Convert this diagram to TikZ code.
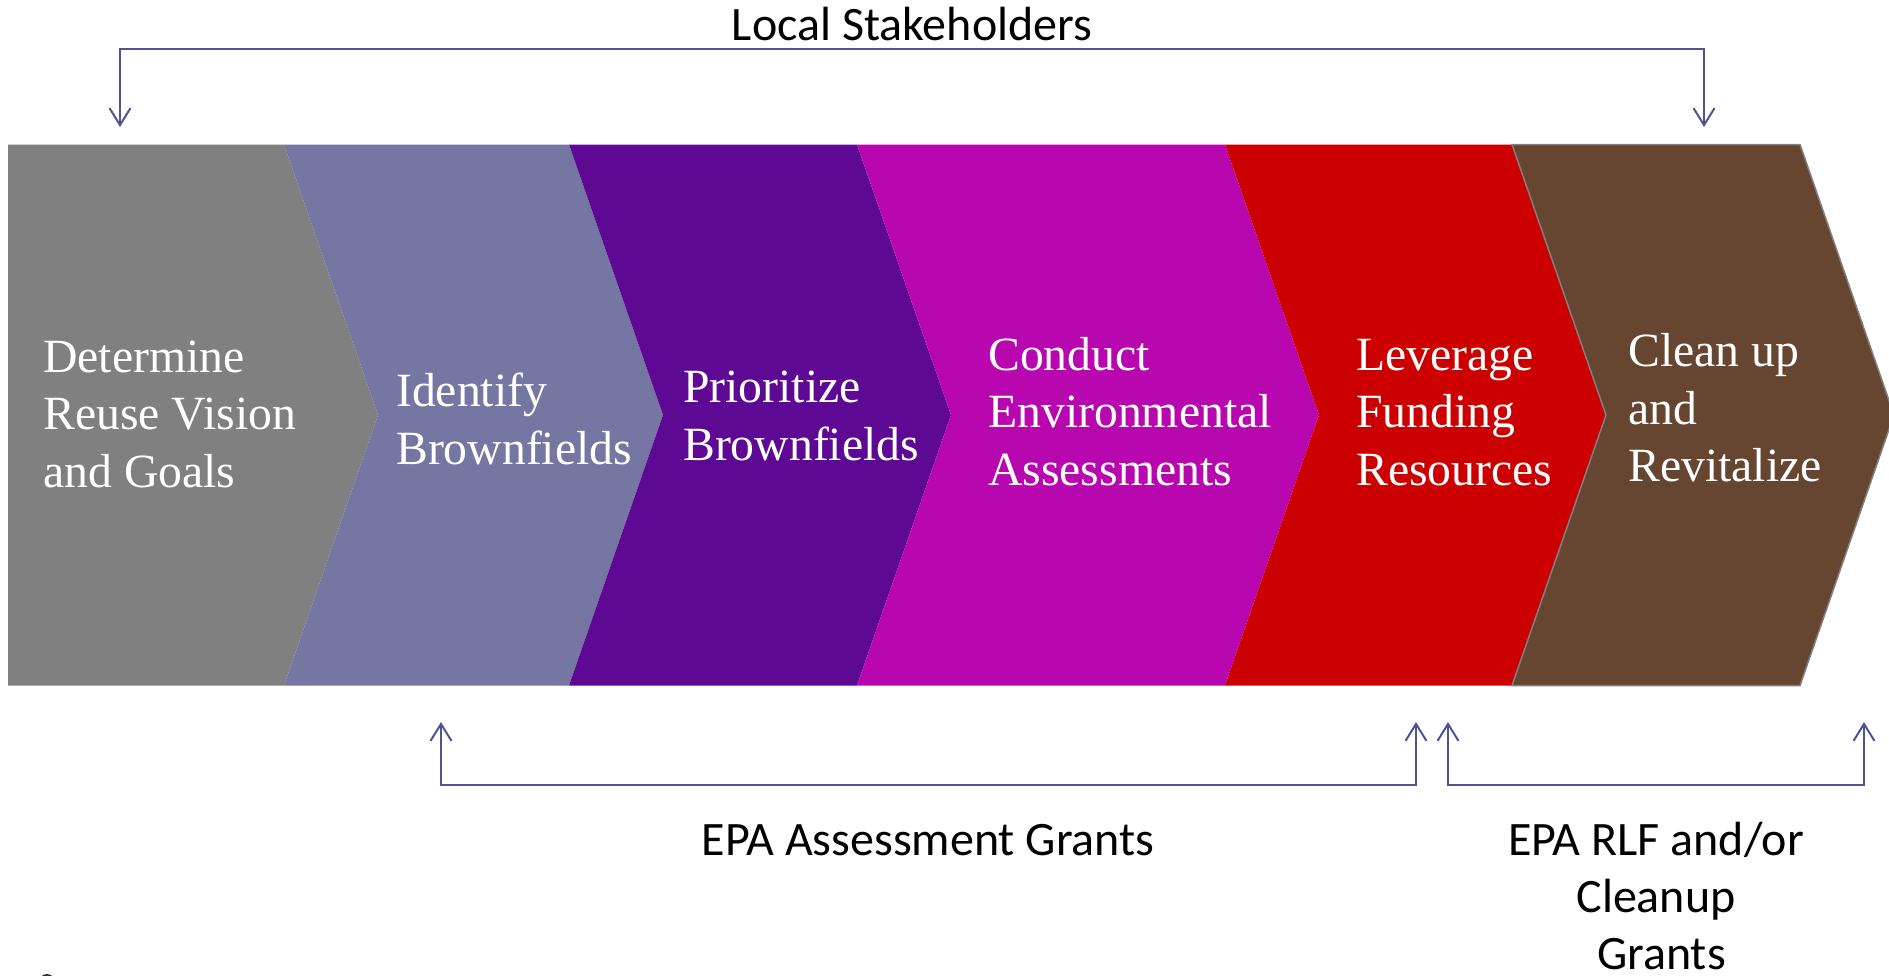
\documentclass[tikz,border=0pt]{standalone}
\usepackage{fontspec}
\setmainfont{Liberation Serif}
\newfontfamily\calib{Carlito}
\usetikzlibrary{arrows.meta}
\definecolor{cgray}{HTML}{808080}
\definecolor{cslate}{HTML}{7676A2}
\definecolor{cpurple}{HTML}{5E0993}
\definecolor{cmagenta}{HTML}{B807AE}
\definecolor{cred}{HTML}{CC0000}
\definecolor{cbrown}{HTML}{664630}
\definecolor{carrow}{HTML}{4F5390}
\newcommand\leftlines[1]{\vtop{\halign{##\hfil\cr#1\crcr}}}
\newcommand\centerlines[1]{\vtop{\halign{\hfil##\hfil\cr#1\crcr}}}
\tikzset{
  steptext/.style={anchor=base west, inner sep=0pt, text=white,
    font=\fontsize{47.7}{57.5}\selectfont},
  sidetext/.style={anchor=base, inner sep=0pt, text=black,
    font=\calib\fontsize{48}{57}\selectfont},
  bracket/.style={draw=carrow, line width=2pt,
    {Straight Barb[length=17pt,width=21pt]}-{Straight Barb[length=17pt,width=21pt]}},
}
\begin{document}
\begin{tikzpicture}[x=1pt,y=-1pt]
\useasboundingbox (0,0) rectangle (1889,975);
% chevrons
\def\ct{144.5}\def\cb{685.5}\def\cm{415}\def\dd{94}
\fill[cgray] (8,\ct) -- (284,\ct) -- (284+\dd,\cm) -- (284,\cb) -- (8,\cb) -- cycle;
\fill[cslate] (284,\ct) -- (569,\ct) -- (569+\dd,\cm) -- (569,\cb) -- (284,\cb) -- (284+\dd,\cm) -- cycle;
\fill[cpurple] (569,\ct) -- (857,\ct) -- (857+\dd,\cm) -- (857,\cb) -- (569,\cb) -- (569+\dd,\cm) -- cycle;
\fill[cmagenta] (857,\ct) -- (1225,\ct) -- (1225+\dd,\cm) -- (1225,\cb) -- (857,\cb) -- (857+\dd,\cm) -- cycle;
\fill[cred] (1225,\ct) -- (1512,\ct) -- (1512+\dd,\cm) -- (1512,\cb) -- (1225,\cb) -- (1225+\dd,\cm) -- cycle;
\filldraw[fill=cbrown, draw=cgray, line width=1.5pt] (1512,\ct) -- (1800,\ct) -- (1800+\dd,\cm) -- (1800,\cb) -- (1512,\cb) -- (1512+\dd,\cm) -- cycle;
% step labels
\node[steptext] (t1) at (43,372) {\leftlines{Determine\cr Reuse Vision\cr and Goals}};
\node[steptext] (t2) at (396,406.7) {\leftlines{Identify\cr Brownfields}};
\node[steptext] (t3) at (683,402.7) {\leftlines{Prioritize\cr Brownfields}};
\node[steptext] (t4) at (988,370) {\leftlines{Conduct\cr Environmental\cr Assessments}};
\node[steptext] (t5) at (1356,370) {\leftlines{Leverage\cr Funding\cr Resources}};
\node[steptext] (t6) at (1628,366.6) {\leftlines{Clean up\cr and\cr Revitalize}};
% top bracket
\node[sidetext] (ls) at (912,40) {Local Stakeholders};
\coordinate (tl) at (120,127);
\coordinate (tr) at (1704,127);
\draw[bracket] (tl) -- (120,49) -- (1704,49) -- (tr);
% bottom brackets
\coordinate (bl1) at (441,722);
\coordinate (bl2) at (1416,722);
\coordinate (br1) at (1448,722);
\coordinate (br2) at (1864,722);
\draw[bracket] (bl1) -- (441,784.5) -- (1416,784.5) -- (bl2);
\draw[bracket] (br1) -- (1448,784.5) -- (1864,784.5) -- (br2);
\node[sidetext] (ea) at (928,855) {EPA Assessment Grants};
\node[sidetext] (er) at (1656,855.7) {\centerlines{EPA RLF and/or\cr Cleanup\cr \ Grants}};
% partial mark at bottom left
\fill[black!80] (47,982) circle (8);
\end{tikzpicture}
\end{document}
